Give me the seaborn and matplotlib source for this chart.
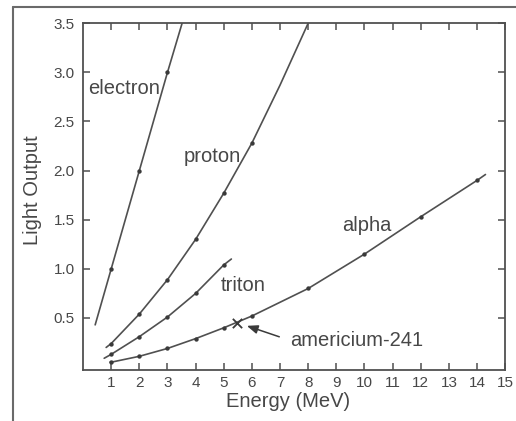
"""Light output vs. energy for several particles (scintillator response)."""

import matplotlib

matplotlib.use("Agg")
import matplotlib.pyplot as plt
import pandas as pd
import seaborn as sns
from matplotlib.lines import Line2D

# measured points
electron_e = [1, 2, 3]
electron_l = [1.0, 2.0, 3.0]
proton_e = [1, 2, 3, 4, 5, 6]
proton_l = [0.24, 0.54, 0.89, 1.30, 1.77, 2.28]
triton_e = [1, 2, 3, 4, 5]
triton_l = [0.13, 0.31, 0.51, 0.75, 1.04]
alpha_e = [1, 2, 3, 4, 5, 6, 8, 10, 12, 14]
alpha_l = [0.05, 0.11, 0.19, 0.29, 0.40, 0.52, 0.80, 1.15, 1.53, 1.90]

# fitted curves
electron_fit_e = [0.43, 1, 2, 3, 3.52]
electron_fit_l = [0.43, 1.0, 2.0, 3.0, 3.5]
proton_fit_e = [0.82, 1, 2, 3, 4, 5, 6, 7, 8.0]
proton_fit_l = [0.20, 0.24, 0.54, 0.89, 1.30, 1.77, 2.28, 2.87, 3.5]
triton_fit_e = [0.75, 1, 2, 3, 4, 5, 5.27]
triton_fit_l = [0.09, 0.13, 0.31, 0.51, 0.75, 1.04, 1.10]
alpha_fit_e = [0.96, 1, 2, 3, 4, 5, 6, 8, 10, 12, 14, 14.3]
alpha_fit_l = [0.05, 0.05, 0.11, 0.19, 0.29, 0.40, 0.52, 0.80, 1.15, 1.53, 1.90, 1.96]

am241_e = [5.47]
am241_l = [0.45]

x_ticks = list(range(1, 16))
y_ticks = [0.5, 1.0, 1.5, 2.0, 2.5, 3.0, 3.5]

LINE = "#505050"
TEXT = "#474747"

sns.set_style("ticks")
plt.rcParams["font.family"] = ["Liberation Sans", "DejaVu Sans"]

fig = plt.figure(figsize=(5.16, 4.21), dpi=100)
ax = fig.add_axes([0.161, 0.121, 0.818, 0.824])

curves = [
    (electron_fit_e, electron_fit_l, electron_e, electron_l),
    (proton_fit_e, proton_fit_l, proton_e, proton_l),
    (triton_fit_e, triton_fit_l, triton_e, triton_l),
    (alpha_fit_e, alpha_fit_l, alpha_e, alpha_l),
]
for fe, fl, pe, pl in curves:
    fit = pd.DataFrame({"E": fe, "L": fl})
    pts = pd.DataFrame({"E": pe, "L": pl})
    sns.lineplot(data=fit, x="E", y="L", ax=ax, color=LINE, linewidth=1.2,
                 sort=False, estimator=None)
    sns.scatterplot(data=pts, x="E", y="L", ax=ax, color="#3a3a3a", s=10,
                    linewidth=0, zorder=3)

sns.scatterplot(x=am241_e, y=am241_l, ax=ax, marker="x", color="#3a3a3a",
                s=45, linewidth=1.3, zorder=4)

label_kw = dict(fontsize=14.5, color=TEXT)
ax.text(0.18, 2.84, "electron", va="center", ha="left", **label_kw)
ax.text(3.56, 2.14, "proton", va="center", ha="left", **label_kw)
ax.text(4.88, 0.83, "triton", va="center", ha="left", **label_kw)
ax.text(9.2, 1.44, "alpha", va="center", ha="left", **label_kw)
ax.annotate("americium-241", xy=(5.82, 0.42), xytext=(7.37, 0.27),
            va="center", ha="left", **label_kw,
            arrowprops=dict(arrowstyle="-|>,head_length=0.45,head_width=0.18",
                            color="#3a3a3a", lw=1.1, shrinkA=6, shrinkB=0,
                            relpos=(0, 0.5)))

ax.set_xlim(0, 15)
ax.set_ylim(-0.03, 3.5)
ax.set_xticks(x_ticks)
ax.set_yticks(y_ticks)
ax.set_xticklabels([str(t) for t in x_ticks])
ax.set_yticklabels([f"{t:.1f}" for t in y_ticks])
ax.tick_params(direction="in", length=5, width=1.1, color=LINE,
               labelsize=11, labelcolor=TEXT, top=True, right=True,
               labeltop=False, labelright=False)
ax.tick_params(axis="x", pad=4)
ax.tick_params(axis="y", pad=6)
for sp in ax.spines.values():
    sp.set_visible(True)
    sp.set_color(LINE)
    sp.set_linewidth(1.3)

ax.set_xlabel("Energy (MeV)", fontsize=14.5, color=TEXT)
ax.set_ylabel("Light Output", fontsize=14.5, color=TEXT)
ax.xaxis.set_label_coords(0.486, -0.062)
ax.yaxis.set_label_coords(-0.097, 0.519)

# outer frame of the original figure
fig.add_artist(Line2D([13 / 516, 1.0], [1 - 7 / 421, 1 - 7 / 421],
                      transform=fig.transFigure, color="#6a6a6a", lw=1.5))
fig.add_artist(Line2D([13 / 516, 13 / 516], [0.0, 1 - 7 / 421],
                      transform=fig.transFigure, color="#6a6a6a", lw=1.5))

fig.savefig("out.png", dpi=100)
plt.close(fig)
